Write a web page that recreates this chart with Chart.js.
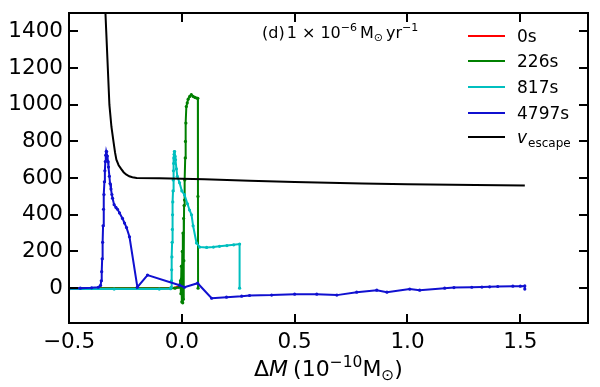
<!DOCTYPE html>
<html>
<head>
<meta charset="utf-8">
<script src="https://cdn.jsdelivr.net/npm/chart.js@4"></script>
<style>
  html, body { margin: 0; padding: 0; background: #fff; }
</style>
</head>
<body>
<canvas id="chart" width="600" height="387"></canvas>
<script>
// series labels and colours
const seriesNames = ['0s', '226s', '817s', '4797s'];
const seriesColors = ['#ff0000', '#008000', '#00bfbf', '#1010d0'];

// 0s
const dm0 = [-0.5, -0.2, -0.05, -0.02, 0.0, 0.003];
const v0 = [0, 0, 0, 5, 12, 0];

// 226s
const dm226 = [-0.5, -0.2, -0.03, -0.012, -0.006, -0.004, -0.002, 0.0, 0.002, 0.004, 0.005, 0.006, 0.008, 0.009, 0.01, 0.012, 0.013, 0.015, 0.016, 0.018, 0.02, 0.024, 0.028, 0.035, 0.042, 0.05, 0.058, 0.066, 0.071, 0.0715, 0.072];
const v226 = [0, 0, 0, 5, 40, -30, 120, -75, 200, -80, 300, -60, 380, 150, 450, 480, 590, 710, 800, 900, 990, 1010, 1030, 1045, 1055, 1045, 1040, 1036, 1035, 500, 0];

// 817s
const dm817 = [-0.5, -0.3, -0.1, -0.05, -0.047, -0.046, -0.045, -0.044, -0.043, -0.042, -0.041, -0.04, -0.039, -0.038, -0.037, -0.036, -0.035, -0.034, -0.033, -0.032, -0.03, -0.028, -0.024, -0.02, -0.01, 0.0, 0.012, 0.025, 0.034, 0.043, 0.05, 0.065, 0.079, 0.11, 0.14, 0.167, 0.2, 0.23, 0.256, 0.256];
const v817 = [-5, -5, -5, -3, 5, 40, 100, 170, 250, 320, 400, 470, 530, 590, 640, 680, 710, 730, 745, 745, 720, 700, 650, 610, 574, 530, 508, 460, 426, 400, 340, 246, 224, 222, 224, 228, 232, 236, 240, 0];

// 4797s
const dm4797 = [-0.5, -0.45, -0.4, -0.37, -0.36, -0.357, -0.355, -0.353, -0.351, -0.349, -0.347, -0.345, -0.343, -0.341, -0.339, -0.337, -0.335, -0.333, -0.33, -0.327, -0.325, -0.321, -0.318, -0.314, -0.31, -0.307, -0.3, -0.292, -0.285, -0.276, -0.263, -0.254, -0.245, -0.232, -0.197, -0.152, -0.01, 0.012, 0.07, 0.132, 0.198, 0.265, 0.3, 0.398, 0.5, 0.598, 0.687, 0.775, 0.864, 0.909, 1.01, 1.054, 1.165, 1.206, 1.285, 1.33, 1.364, 1.4, 1.467, 1.5, 1.52, 1.52];
const v4797 = [0, 0, 2, 5, 15, 40, 90, 160, 250, 340, 430, 510, 580, 640, 690, 725, 745, 745, 720, 690, 660, 610, 570, 540, 510, 490, 455, 440, 430, 410, 380, 355, 330, 280, 5, 71, 16, 5, 27, -55, -49, -44, -40, -38, -33, -33, -38, -22, -11, -22, -5, -11, 0, 3, 5, 6, 7, 9, 11, 11, 12, -5];

// escape velocity
const dmEsc = [-0.34, -0.3385, -0.335, -0.328, -0.321, -0.312, -0.303, -0.296, -0.29, -0.28, -0.269, -0.258, -0.247, -0.233, -0.219, -0.2, -0.1, 0.0, 0.1, 0.3, 0.5, 0.8, 1.0, 1.3, 1.52];
const vEsc = [2200, 1500, 1400, 1200, 1000, 880, 800, 740, 700, 670, 650, 632, 620, 610, 605, 601, 599, 597, 594, 585, 578, 570, 566, 562, 560];

const xTicks = [-0.5, 0.0, 0.5, 1.0, 1.5];
const yTicks = [0, 200, 400, 600, 800, 1000, 1200, 1400];

const FONT = 'DejaVu Sans';

function pts(xs, ys) {
    return xs.map(function (x, i) { return { x: x, y: ys[i] }; });
}

function series(i, xs, ys, order) {
    return {
        label: seriesNames[i],
        data: pts(xs, ys),
        borderColor: seriesColors[i],
        backgroundColor: seriesColors[i],
        borderWidth: 2,
        pointRadius: 1.6,
        pointBorderWidth: 0,
        tension: 0,
        order: order,
    };
}

// draw a run of text pieces (for sub/superscripts), returns end x
function drawRuns(ctx, x, y, runs, measureOnly) {
    runs.forEach(function (r) {
        ctx.font = r.font;
        if (!measureOnly) ctx.fillText(r.t, x, y + (r.dy || 0));
        x += ctx.measureText(r.t).width + (r.gap || 0);
    });
    return x;
}

const decorations = {
    id: 'decorations',
    afterDraw(chart) {
        const ctx = chart.ctx;
        const a = chart.chartArea;
        const xs = chart.scales.x, ys = chart.scales.y;
        ctx.save();
        ctx.fillStyle = '#000';

        // inward ticks on all four sides
        xTicks.forEach(function (v) {
            const p = Math.round(xs.getPixelForValue(v));
            ctx.fillRect(p - 1, a.bottom - 9, 2, 9);
            ctx.fillRect(p - 1, a.top, 2, 9);
        });
        yTicks.forEach(function (v) {
            const p = Math.round(ys.getPixelForValue(v));
            ctx.fillRect(a.left, p - 1, 9, 2);
            ctx.fillRect(a.right - 9, p - 1, 9, 2);
        });

        // frame
        ctx.strokeStyle = '#000';
        ctx.lineWidth = 2;
        ctx.strokeRect(a.left, a.top, a.right - a.left, a.bottom - a.top);

        // legend
        const rows = [36, 61, 87, 113, 137];
        const lcol = seriesColors.concat(['#000']);
        ctx.textBaseline = 'alphabetic';
        ctx.textAlign = 'left';
        rows.forEach(function (y, i) {
            ctx.strokeStyle = lcol[i];
            ctx.lineWidth = 2;
            ctx.beginPath();
            ctx.moveTo(468, y); ctx.lineTo(505, y);
            ctx.stroke();
            if (i < seriesNames.length) {
                ctx.font = '17px ' + FONT;
                ctx.fillText(seriesNames[i], 517, y + 6);
            } else {
                drawRuns(ctx, 517, y + 6, [
                    { t: 'v', font: 'italic 17px ' + FONT, gap: 1 },
                    { t: 'escape', font: '12px ' + FONT, dy: 4 },
                ]);
            }
        });

        // panel annotation
        drawRuns(ctx, 262, 38, [
            { t: '(d)', font: '16px ' + FONT, gap: 2 },
            { t: '1 \u00d7 10', font: '16px ' + FONT },
            { t: '\u22126', font: '11px ' + FONT, dy: -7, gap: 3 },
            { t: 'M', font: '16px ' + FONT },
            { t: '\u2299', font: '11px ' + FONT, dy: 3, gap: 3 },
            { t: 'yr', font: '16px ' + FONT },
            { t: '\u22121', font: '11px ' + FONT, dy: -7 },
        ]);

        // x axis title
        const titleRuns = [
            { t: '\u0394', font: '22px ' + FONT },
            { t: 'M', font: 'italic 22px ' + FONT, gap: 5 },
            { t: '(10', font: '22px ' + FONT },
            { t: '\u221210', font: '15.5px ' + FONT, dy: -9 },
            { t: 'M', font: '22px ' + FONT },
            { t: '\u2299', font: '15.5px ' + FONT, dy: 4 },
            { t: ')', font: '22px ' + FONT },
        ];
        const w = drawRuns(ctx, 0, 0, titleRuns, true);
        drawRuns(ctx, (a.left + a.right) / 2 - w / 2, 376, titleRuns);

        ctx.restore();
    }
};

const ctx = document.getElementById('chart').getContext('2d');
new Chart(ctx, {
    type: 'line',
    data: {
        datasets: [
            series(0, dm0, v0, 5),
            series(1, dm226, v226, 4),
            series(2, dm817, v817, 3),
            series(3, dm4797, v4797, 2),
            {
                label: 'v_escape',
                data: pts(dmEsc, vEsc),
                borderColor: '#000',
                borderWidth: 2,
                pointRadius: 0,
                tension: 0,
                order: 1,
            },
        ],
    },
    options: {
        responsive: false,
        animation: false,
        devicePixelRatio: 1,
        layout: { padding: { top: 13, right: 12, left: 0, bottom: 0 } },
        plugins: {
            legend: { display: false },
            tooltip: { enabled: false },
        },
        scales: {
            x: {
                type: 'linear',
                min: -0.5,
                max: 1.8,
                afterBuildTicks: function (s) { s.ticks = xTicks.map(function (v) { return { value: v }; }); },
                afterFit: function (s) { s.height = 64; s.paddingLeft = 0; s.paddingRight = 0; },
                grid: { display: false, drawTicks: false },
                border: { display: false },
                ticks: {
                    color: '#000',
                    padding: 7,
                    maxRotation: 0,
                    font: { family: FONT, size: 21.5 },
                    callback: function (v) { return (v < 0 ? '\u2212' : '') + Math.abs(v).toFixed(1); },
                },
            },
            y: {
                type: 'linear',
                min: -190,
                max: 1500,
                afterBuildTicks: function (s) { s.ticks = yTicks.map(function (v) { return { value: v }; }); },
                afterFit: function (s) { s.width = 69; s.paddingTop = 0; s.paddingBottom = 0; },
                grid: { display: false, drawTicks: false },
                border: { display: false },
                ticks: {
                    color: '#000',
                    padding: 6,
                    font: { family: FONT, size: 21.5 },
                    callback: function (v) { return String(v); },
                },
            },
        },
    },
    plugins: [decorations],
});
</script>
</body>
</html>
